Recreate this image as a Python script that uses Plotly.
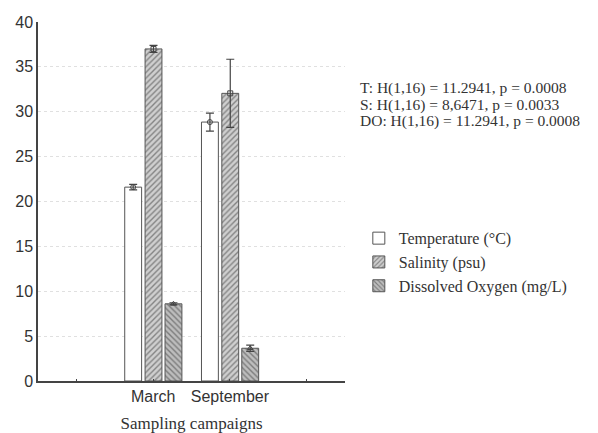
import plotly.graph_objects as go

campaigns = ["March", "September"]
campaign_x = [2, 3]
tick_positions = [1, 2, 3, 4]
tick_labels = ["", "March", "September", ""]

temperature = [21.6, 28.85]
temperature_err = [0.3, 1.0]
salinity = [37.0, 32.05]
salinity_err = [0.4, 3.8]
oxygen = [8.6, 3.65]
oxygen_err = [0.12, 0.35]

stats_lines = [
    "T: H(1,16) = 11.2941, p = 0.0008",
    "S: H(1,16) = 8,6471, p = 0.0033",
    "DO: H(1,16) = 11.2941, p = 0.0008",
]

W = 0.22
offsets = [-0.37, -0.105, 0.155]
series = [
    ("Temperature (°C)", temperature, temperature_err, "", "white", "circle-open"),
    ("Salinity (psu)", salinity, salinity_err, "/", "#cfcfcf", "square-open"),
    ("Dissolved Oxygen (mg/L)", oxygen, oxygen_err, "\\", "#bdbdbd", "triangle-up-open"),
]

fig = go.Figure()
for (name, vals, errs, shape, bg, sym), off in zip(series, offsets):
    fig.add_trace(go.Bar(
        x=campaign_x, y=vals, name=name, width=W, offset=off,
        marker=dict(color=bg, line=dict(color="#555555", width=1),
                    pattern=dict(shape=shape, fgcolor="#3a3a3a", bgcolor=bg,
                                 size=4, solidity=0.35) if shape else None),
        error_y=dict(type="data", array=errs, visible=True, color="#444444",
                     thickness=1.2, width=4),
    ))
for (name, vals, errs, shape, bg, sym), off in zip(series, offsets):
    fig.add_trace(go.Scatter(
        x=[c + off + W / 2 for c in campaign_x], y=vals, mode="markers",
        marker=dict(symbol=sym, size=5, color="#444444", line=dict(width=1)),
        showlegend=False, hoverinfo="skip",
    ))

serif = "Liberation Serif, Times New Roman"
fig.update_layout(
    width=598, height=433,
    margin=dict(l=38, r=253, t=22, b=52),
    barmode="overlay",
    plot_bgcolor="white", paper_bgcolor="white",
    font=dict(family="Liberation Sans, Arial", size=16, color="#333333"),
    legend=dict(x=1.045, y=0.445, xanchor="left", yanchor="top",
                font=dict(family=serif, size=16, color="#333333"),
                bgcolor="rgba(0,0,0,0)", tracegroupgap=0, itemwidth=30),
    showlegend=True,
)
fig.update_xaxes(
    range=[0.5, 4.5], tickvals=tick_positions, ticktext=tick_labels,
    showline=True, linecolor="#444444", linewidth=1.5, showgrid=False,
    ticks="inside", ticklen=2, tickcolor="#444444", zeroline=False,
    tickfont=dict(size=16), automargin=False,
    title=dict(text="Sampling campaigns", standoff=13,
               font=dict(family=serif, size=17)),
)
fig.update_yaxes(
    range=[0, 40], dtick=5, showline=True, linecolor="#444444", linewidth=1.5,
    showgrid=True, gridcolor="#e0e0e0", griddash="dot", gridwidth=1,
    ticks="", zeroline=False, tickfont=dict(size=16), automargin=False,
)
for i, line in enumerate(stats_lines):
    fig.add_annotation(
        text=line, xref="paper", yref="paper", x=1.042, y=0.816 - i * 0.046,
        xanchor="left", yanchor="middle", showarrow=False,
        font=dict(family=serif, size=15.5, color="#333333"),
    )

fig.write_html("out.html")
